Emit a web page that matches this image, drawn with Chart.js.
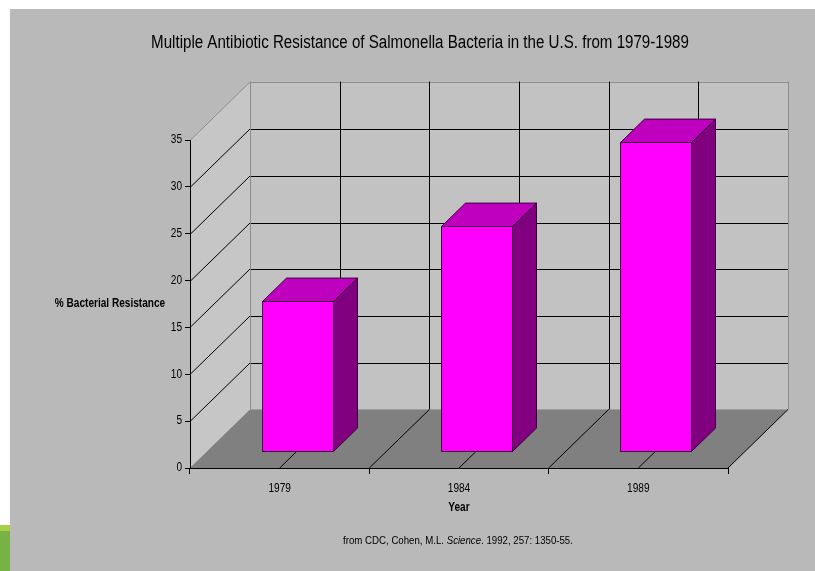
<!DOCTYPE html>
<html>
<head>
<meta charset="utf-8">
<script src="https://cdn.jsdelivr.net/npm/chart.js@4.4.1/dist/chart.umd.min.js"></script>
<style>
  html, body { margin: 0; padding: 0; background: #ffffff; }
  #wrap { width: 815px; height: 571px; position: relative; }
  canvas { display: block; }
</style>
</head>
<body>
<div id="wrap"><canvas id="c" width="815" height="571"></canvas></div>
<script>
// ---- data ----
const categories = ['1979', '1984', '1989'];
const resistance = [16, 24, 33];
const yTicks = [0, 5, 10, 15, 20, 25, 30, 35];
const chartTitle = 'Multiple Antibiotic Resistance of Salmonella Bacteria in the U.S. from 1979-1989';
const yAxisLabel = '% Bacterial Resistance';
const xAxisLabel = 'Year';
const sourceParts = [
  ['from CDC, Cohen, M.L. ', 'normal'],
  ['Science', 'italic'],
  ['. 1992, 257: 1350-55.', 'normal']
];

// ---- look ----
const FONT = "'Liberation Sans Narrow', 'Arial Narrow', 'Liberation Sans', Arial, sans-serif";
// all canvas text is drawn horizontally condensed, like a narrow face
const TEXT_SQUEEZE = 0.84;
// depth of the 3-D box (pixels) and where the bars sit inside it (fractions of depth)
const DEPTH = { dx: 60, dy: -58.5, front: 0.29, back: 0.69 };
const COLORS = {
  page: '#b9b9b9',
  leftWall: '#c6c6c6',
  backWall: '#c2c2c2',
  floor: '#808080',
  wallEdge: '#8c8c8c',
  grid: '#000000',
  barFront: '#ff00ff',
  barTop: '#bf00bf',
  barSide: '#800080',
  barEdge: '#3a003a'
};

Chart.defaults.font.family = FONT;
Chart.defaults.color = '#000000';

const canvas = document.getElementById('c');
const ctx2d = canvas.getContext('2d');
const rawFillText = CanvasRenderingContext2D.prototype.fillText;
ctx2d.fillText = function (text, x, y, maxWidth) {
  this.save();
  this.translate(x, y);
  this.scale(TEXT_SQUEEZE, 1);
  if (maxWidth !== undefined) rawFillText.call(this, text, 0, 0, maxWidth / TEXT_SQUEEZE);
  else rawFillText.call(this, text, 0, 0);
  this.restore();
};

function line(ctx, x1, y1, x2, y2, color) {
  ctx.strokeStyle = color;
  ctx.beginPath();
  ctx.moveTo(x1, y1);
  ctx.lineTo(x2, y2);
  ctx.stroke();
}

function poly(ctx, pts, fill) {
  ctx.beginPath();
  ctx.moveTo(pts[0][0], pts[0][1]);
  for (let i = 1; i < pts.length; i++) ctx.lineTo(pts[i][0], pts[i][1]);
  ctx.closePath();
  ctx.fillStyle = fill;
  ctx.fill();
}

const box3d = {
  id: 'box3d',
  beforeDraw(chart) {
    const ctx = chart.ctx;
    const { left, right, top, bottom } = chart.chartArea;
    const xs = chart.scales.x, ys = chart.scales.y;
    const dx = DEPTH.dx, dy = DEPTH.dy;
    ctx.save();
    // page
    ctx.fillStyle = '#ffffff';
    ctx.fillRect(0, 0, chart.width, chart.height);
    ctx.fillStyle = COLORS.page;
    ctx.fillRect(10, 9, chart.width - 10, chart.height - 9);
    ctx.fillStyle = '#77b244';
    ctx.fillRect(0, 525, 10, chart.height - 525);
    ctx.fillStyle = '#a9cf46';
    ctx.fillRect(0, 525, 10, 6);

    // walls and floor
    poly(ctx, [[left, top], [left + dx, top + dy], [left + dx, bottom + dy], [left, bottom]], COLORS.leftWall);
    poly(ctx, [[left + dx, top + dy], [right + dx, top + dy], [right + dx, bottom + dy], [left + dx, bottom + dy]], COLORS.backWall);
    poly(ctx, [[left, bottom], [left + dx, bottom + dy], [right + dx, bottom + dy], [right, bottom]], COLORS.floor);

    ctx.lineWidth = 1;
    // value gridlines on the side and back walls
    const topVal = yTicks[yTicks.length - 1];
    yTicks.forEach(v => {
      if (v === 0) return;
      const py = Math.round(ys.getPixelForValue(v)) + 0.5;
      const c = v === topVal ? COLORS.wallEdge : COLORS.grid;
      line(ctx, left, py, left + dx, py + dy, c);
      line(ctx, left + dx, Math.round(py + dy) + 0.5, right + dx, Math.round(py + dy) + 0.5, c);
    });

    // category gridlines: category centres and boundaries
    const step = xs.getPixelForValue(1) - xs.getPixelForValue(0);
    const positions = [];
    categories.forEach((_, i) => {
      const c = xs.getPixelForValue(i);
      if (i > 0) positions.push(c - step / 2);
      positions.push(c);
    });
    positions.forEach(p => {
      const bx = Math.round(p + dx) + 0.5;
      line(ctx, bx, top + dy, bx, bottom + dy, COLORS.grid);
      line(ctx, p, bottom, p + dx, bottom + dy, COLORS.grid);
    });

    // outer edges of the box
    const lx = Math.round(left + dx) + 0.5, rx = Math.round(right + dx) + 0.5;
    line(ctx, lx, top + dy, lx, bottom + dy, COLORS.wallEdge);
    line(ctx, rx, top + dy, rx, bottom + dy, COLORS.wallEdge);
    line(ctx, right, bottom, right + dx, bottom + dy, COLORS.grid);
    ctx.restore();
  },
  afterDatasetsDraw(chart) {
    const ctx = chart.ctx;
    const dx = DEPTH.dx, dy = DEPTH.dy;
    const fx = DEPTH.front * dx, fy = DEPTH.front * dy;
    const ddx = (DEPTH.back - DEPTH.front) * dx, ddy = (DEPTH.back - DEPTH.front) * dy;
    ctx.save();
    ctx.lineWidth = 1;
    ctx.strokeStyle = COLORS.barEdge;
    ctx.lineJoin = 'miter';
    chart.getDatasetMeta(0).data.forEach(bar => {
      const { x, y, base, width } = bar.getProps(['x', 'y', 'base', 'width'], true);
      const x0 = Math.round(x - width / 2 + fx) + 0.5;
      const x1 = Math.round(x + width / 2 + fx) + 0.5;
      const t = Math.round(y + fy) + 0.5;
      const b = Math.round(base + fy) + 0.5;
      const side = [[x1, t], [x1 + ddx, t + ddy], [x1 + ddx, b + ddy], [x1, b]];
      const topFace = [[x0, t], [x1, t], [x1 + ddx, t + ddy], [x0 + ddx, t + ddy]];
      const front = [[x0, t], [x1, t], [x1, b], [x0, b]];
      [[side, COLORS.barSide], [topFace, COLORS.barTop], [front, COLORS.barFront]].forEach(([pts, col]) => {
        poly(ctx, pts, col);
        ctx.stroke();
      });
    });
    ctx.restore();
  },
  afterDraw(chart) {
    const ctx = chart.ctx;
    ctx.save();
    ctx.fillStyle = '#000000';
    ctx.textBaseline = 'middle';
    // title
    ctx.font = '18px ' + FONT;
    ctx.textAlign = 'center';
    ctx.fillText(chartTitle, 420, 43);
    // horizontal value-axis caption
    ctx.font = 'bold 12px ' + FONT;
    ctx.fillText(yAxisLabel, 110, 304);
    // source line with italic journal name
    ctx.textAlign = 'left';
    const fonts = sourceParts.map(([, st]) => (st === 'italic' ? 'italic ' : '') + '11.5px ' + FONT);
    let total = 0;
    const widths = sourceParts.map(([txt], i) => {
      ctx.font = fonts[i];
      const w = ctx.measureText(txt).width * TEXT_SQUEEZE;
      total += w;
      return w;
    });
    let sx = 458 - total / 2;
    sourceParts.forEach(([txt], i) => { ctx.font = fonts[i]; ctx.fillText(txt, sx, 541); sx += widths[i]; });
    ctx.restore();
  }
};

new Chart(canvas, {
  type: 'bar',
  data: {
    labels: categories,
    datasets: [{
      label: yAxisLabel,
      data: resistance,
      backgroundColor: 'rgba(0,0,0,0)',
      borderWidth: 0,
      barPercentage: 0.396,
      categoryPercentage: 1
    }]
  },
  options: {
    responsive: false,
    devicePixelRatio: 1,
    animation: false,
    layout: { padding: { top: 140, right: 87, left: 0, bottom: 0 } },
    plugins: { legend: { display: false }, tooltip: { enabled: false }, title: { display: false } },
    scales: {
      x: {
        offset: true,
        grid: { offset: true, drawOnChartArea: false, drawTicks: true, tickLength: 6, color: '#000000' },
        border: { display: true, color: '#000000', width: 1 },
        ticks: { padding: 7, font: { size: 12 }, color: '#000000', maxRotation: 0 },
        title: { display: true, text: xAxisLabel, font: { size: 12, weight: 'bold' }, color: '#000000', padding: { top: 4, bottom: 56 } },
        afterFit(scale) { scale.height = 103; }
      },
      y: {
        min: 0,
        max: 35,
        afterBuildTicks(scale) { scale.ticks = yTicks.map(v => ({ value: v })); },
        grid: { drawOnChartArea: false, drawTicks: true, tickLength: 5, color: '#000000' },
        border: { display: true, color: '#000000', width: 1 },
        ticks: { padding: 3, font: { size: 12 }, color: '#000000' },
        afterFit(scale) { scale.width = 190; }
      }
    }
  },
  plugins: [box3d]
});
</script>
</body>
</html>
